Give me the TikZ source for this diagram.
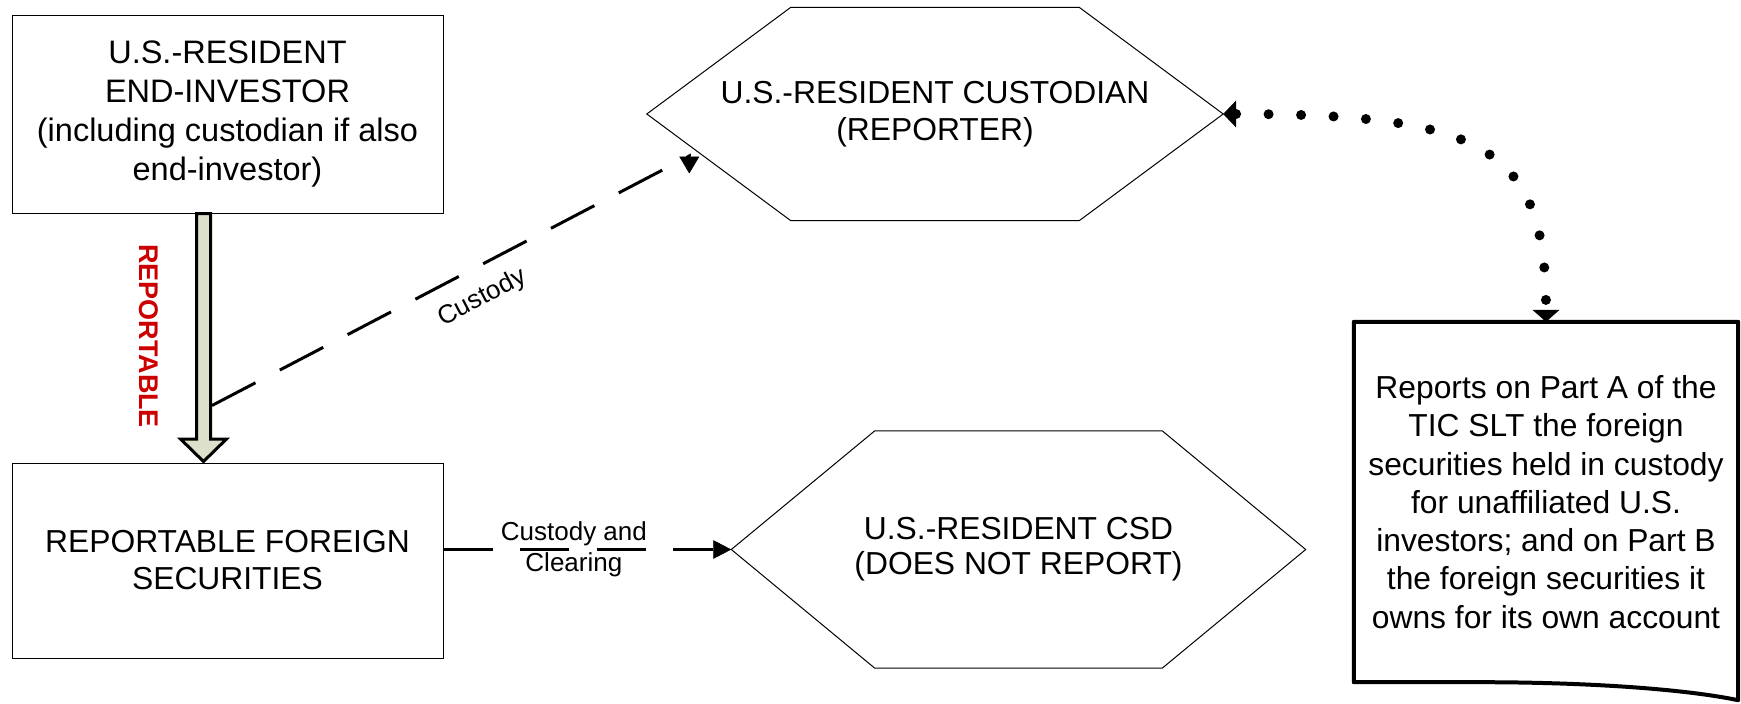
\documentclass[tikz,border=0pt]{standalone}
\usepackage{fontspec}
\setmainfont{Liberation Sans}[Ligatures=NoCommon]
\usetikzlibrary{arrows.meta,calc}

\definecolor{flowfill}{RGB}{221,225,204}
\definecolor{flowred}{RGB}{204,0,0}

\begin{document}
\begin{tikzpicture}[x=1pt,y=-1pt,
  box/.style={draw=black, line width=1pt, minimum width=431pt, inner sep=0pt, align=center},
  hexnode/.style={inner sep=0pt, align=center},
  hexline/.style={draw=black, line width=1pt, line join=miter},
  docnode/.style={inner sep=0pt, align=center, minimum width=384pt, minimum height=360pt},
  docline/.style={draw=black, line width=4pt, line join=round},
  fatarrow/.style={fill=flowfill, draw=black, line width=3pt, line join=miter},
  dashconn/.style={line width=3pt, dash pattern=on 49pt off 27.5pt},
  dotconn/.style={line width=10pt, line cap=round, dash pattern=on 0pt off 32.5pt},
  lbl/.style={font=\fontsize{26}{31}\selectfont, inner sep=0pt, align=center}
]
\useasboundingbox (0,0) rectangle (1741,704);

% boxes on the left
\node[box, minimum height=198pt, font=\fontsize{32.5}{39}\selectfont] (investor) at (227.5,114)
  {U.S.-RESIDENT\\END-INVESTOR\\(including custodian if also\\end-investor)};
\node[box, minimum height=195pt, font=\fontsize{31.8}{37}\selectfont] (securities) at (227.5,560.5)
  {REPORTABLE FOREIGN\\SECURITIES};

% hexagons
\node[hexnode, minimum width=576pt, minimum height=213pt, font=\fontsize{31.8}{37}\selectfont] (custodian) at (935,114)
  {U.S.-RESIDENT CUSTODIAN\\(REPORTER)};
\draw[hexline] (custodian.west) -- ([xshift=144pt]custodian.north west) -- ([xshift=-144pt]custodian.north east)
  -- (custodian.east) -- ([xshift=-144pt]custodian.south east) -- ([xshift=144pt]custodian.south west) -- cycle;

\node[hexnode, minimum width=574pt, minimum height=237pt, font=\fontsize{31.8}{35}\selectfont] (csd) at (1018.5,549.5)
  {U.S.-RESIDENT CSD\\(DOES NOT REPORT)};
\draw[hexline] (csd.west) -- ([xshift=143.5pt]csd.north west) -- ([xshift=-143.5pt]csd.north east)
  -- (csd.east) -- ([xshift=-143.5pt]csd.south east) -- ([xshift=143.5pt]csd.south west) -- cycle;

% document box on the right
\node[docnode, font=\fontsize{31.8}{38.3}\selectfont] (reports) at (1546,502)
  {Reports on Part A of the\\TIC SLT the foreign\\securities held in custody\\for unaffiliated U.S.\\investors; and on Part B\\the foreign securities it\\owns for its own account};
\draw[docline] (reports.south west) -- (reports.north west) -- (reports.north east)
  -- ([yshift=-18pt]reports.south east)
  .. controls ([xshift=-58pt,yshift=-6pt]reports.south east) and ([xshift=-158pt]reports.south east)
  .. ([xshift=-258pt]reports.south east) -- cycle;

% wide arrow from the investor to the securities
\coordinate (flowtop) at ([xshift=-24pt]investor.south);
\draw[fatarrow] ([xshift=-7pt]flowtop) -- ++(0,225.5) -- ++(-16,0) -- ++(23,22.5)
  -- ++(23,-22.5) -- ++(-16,0) -- ++(0,-225.5) -- cycle;
\node[font=\fontsize{27}{30}\selectfont\bfseries, text=flowred, rotate=-90, inner sep=0pt] (reportable)
  at (148.5,336) {REPORTABLE};

% custody link to the custodian
\coordinate (custfrom) at ([xshift=8.5pt,yshift=-192pt]flowtop);
\coordinate (custin) at ([xshift=42.5pt,yshift=-42pt]custodian.west);
\coordinate (custtip) at ([xshift=42.5pt,yshift=-59.5pt]custodian.west);
\draw[dashconn, -{Triangle[length=17pt,width=20pt,line width=0.5pt]}] (custfrom)
  -- node[lbl, sloped, pos=0.537, yshift=-30pt] {Custody} (custin) -- (custtip);

% custody and clearing link to the CSD
\draw[dashconn, -{Triangle[length=18pt,width=18.6pt,line width=0.5pt]}] (securities.east |- csd.west)
  -- node[lbl, pos=0.453] {Custody and\\Clearing} (csd.west);

% dotted link between the custodian and its report
\draw[dotconn, {Triangle[length=13pt,width=27pt,line width=0.5pt]}-{Triangle[length=12pt,width=27pt,line width=0.5pt]}]
  (custodian.east) .. controls +(262,0) and +(0,-174) .. (reports.north);
\end{tikzpicture}
\end{document}
